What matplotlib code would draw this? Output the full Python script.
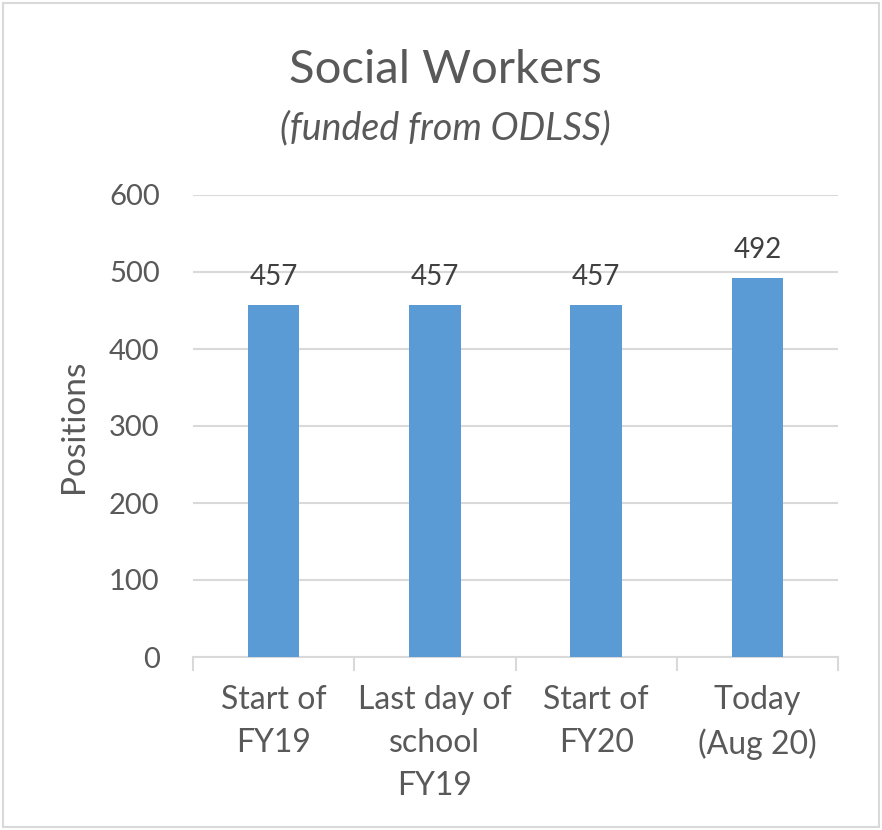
import matplotlib
matplotlib.use("Agg")
import matplotlib.pyplot as plt
from matplotlib.patches import Rectangle

plt.rcParams['font.family'] = ['Lato', 'DejaVu Sans']

categories = ["Start of\nFY19", "Last day of\nschool\nFY19", "Start of\nFY20", "Today\n(Aug 20)"]
values = [457, 457, 457, 492]
yticks = [0, 100, 200, 300, 400, 500, 600]

fig = plt.figure(figsize=(8.82, 8.3), dpi=100)
ax = fig.add_axes([193/882, 1-657/830, (838-193)/882, (657-195)/830])

x = list(range(len(categories)))
bars = ax.bar(x, values, width=0.32, color="#5B9BD5", zorder=3)
for xi, v in zip(x, values):
    ax.text(xi, v + 20, str(v), ha='center', va='bottom', fontsize=20, color="#404040")

ax.set_xlim(-0.5, len(categories) - 0.5)
ax.set_ylim(0, 600)
ax.set_yticks(yticks)
ax.set_yticklabels([str(t) for t in yticks], fontsize=21, color="#595959")
ax.yaxis.grid(True, color="#D9D9D9", linewidth=1.5, zorder=0)
ax.tick_params(axis='y', length=0, pad=24)

ax.set_xticks([i - 0.5 for i in range(len(categories) + 1)], minor=False)
ax.set_xticklabels([])
ax.set_xticks(x, minor=True)
ax.set_xticklabels(categories, minor=True, fontsize=23, color="#595959", linespacing=1.55, va='top')
ax.tick_params(axis='x', which='major', length=10, width=1.5, color="#D9D9D9")
ax.tick_params(axis='x', which='minor', length=0, pad=20)

for s in ['top', 'right', 'left']:
    ax.spines[s].set_visible(False)
ax.spines['bottom'].set_color("#D9D9D9")
ax.spines['bottom'].set_linewidth(1.5)

ax.set_ylabel("Positions", fontsize=24, color="#595959")
ax.yaxis.set_label_coords((89 - 193) / 645, 0.5)

fig.text(0.5045, 1-70/830, "Social Workers", ha='center', va='center', fontsize=34, color="#595959")
fig.text(0.5045, 1-128/830, "(funded from ODLSS)", ha='center', va='center', fontsize=27, color="#595959", style='italic')

fig.patches.append(Rectangle((3/882, 3/830), 876/882, 824/830, transform=fig.transFigure,
                             fill=False, edgecolor="#D9D9D9", linewidth=1.5))

fig.savefig("out.png", dpi=100)
